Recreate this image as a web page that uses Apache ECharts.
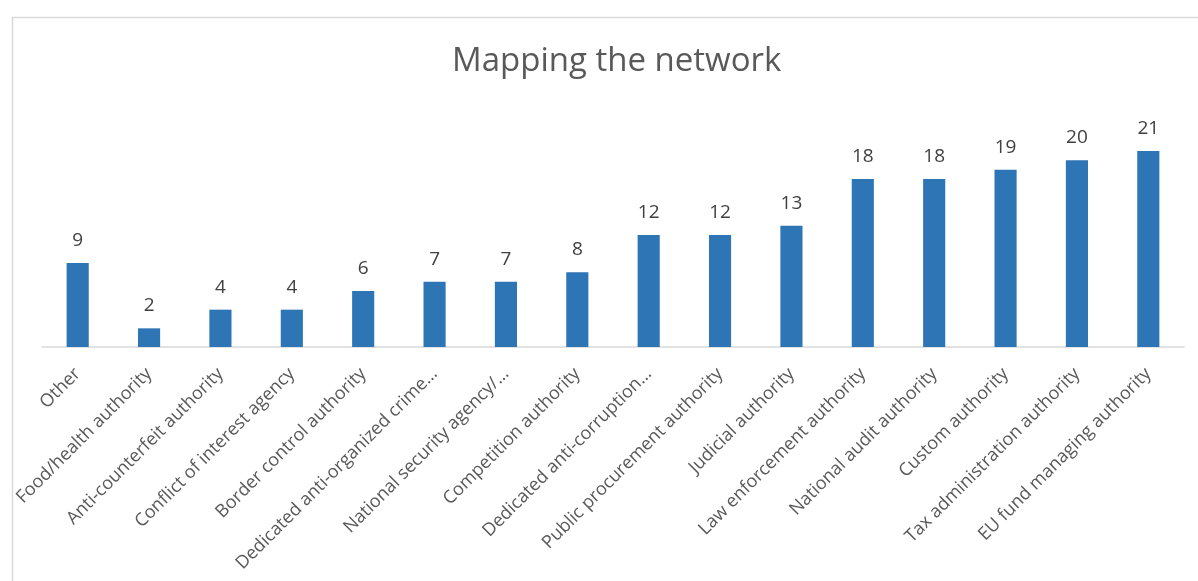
<!DOCTYPE html>
<html>
<head>
<meta charset="utf-8">
<script src="https://cdn.jsdelivr.net/npm/echarts@6/dist/echarts.min.js"></script>
<style>
html,body{margin:0;padding:0;background:#fff;}
#chart{width:1198px;height:581px;}
</style>
</head>
<body>
<div id="chart"></div>
<script>
const categories = [
  "Other",
  "Food/health authority",
  "Anti-counterfeit authority",
  "Conflict of interest agency",
  "Border control authority",
  "Dedicated anti-organized crime…",
  "National security agency/…",
  "Competition authority",
  "Dedicated anti-corruption…",
  "Public procurement authority",
  "Judicial authority",
  "Law enforcement authority",
  "National audit authority",
  "Custom authority",
  "Tax administration authority",
  "EU fund managing authority"
];
const values = [9, 2, 4, 4, 6, 7, 7, 8, 12, 12, 13, 18, 18, 19, 20, 21];
const titleText = "Mapping the network";

const chart = echarts.init(document.getElementById('chart'), null, {renderer: 'canvas'});
chart.setOption({
  backgroundColor: '#ffffff',
  animation: false,
  title: {
    text: titleText,
    left: 447,
    top: 40,
    textStyle: {
      fontFamily: 'Open Sans',
      fontSize: 33,
      fontWeight: 'normal',
      color: '#595959'
    }
  },
  graphic: [{
    type: 'rect',
    left: 10, top: 15,
    shape: {width: 1200, height: 600},
    style: {fill: 'none', stroke: '#d9d9d9', lineWidth: 1.5},
    silent: true
  }],
  grid: {left: 42, right: 14, top: 123, bottom: 234, containLabel: false},
  xAxis: {
    type: 'category',
    data: categories,
    axisLine: {show: true, lineStyle: {color: '#d9d9d9', width: 1.5}},
    axisTick: {show: false},
    axisLabel: {
      rotate: 45,
      interval: 0,
      margin: 24,
      fontFamily: 'Open Sans',
      fontSize: 18,
      color: '#595959'
    }
  },
  yAxis: {
    type: 'value',
    min: 0,
    max: 24,
    show: false,
    splitLine: {show: false}
  },
  series: [{
    type: 'bar',
    data: values,
    barWidth: '31%',
    itemStyle: {color: '#2e75b6'},
    label: {
      show: true,
      position: 'top',
      distance: 13,
      fontFamily: 'Open Sans',
      fontSize: 19,
      color: '#404040'
    }
  }]
});
</script>
</body>
</html>
